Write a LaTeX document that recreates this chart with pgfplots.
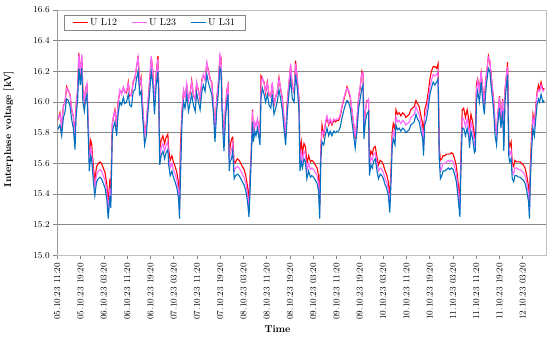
\documentclass[border=0pt]{standalone}
\usepackage{pgfplots}
\usepackage{pgfplotstable}
\pgfplotsset{compat=1.18}
\definecolor{cRed}{HTML}{FF0000}
\definecolor{cMag}{HTML}{FF66FF}
\definecolor{cBlue}{HTML}{0070C0}
\definecolor{gridc}{HTML}{868686}
\definecolor{framec}{HTML}{C0C0C0}

\pgfplotstableread{
h r m b
0.1 15.88 15.89 15.82
0.9 15.93 15.92 15.85
1.5 15.84 15.85 15.78
2.1 15.98 15.97 15.90
2.6 15.99 16.00 15.93
3.2 16.10 16.09 16.02
3.8 16.07 16.08 16.01
4.4 16.05 16.04 15.97
4.9 15.95 15.96 15.89
5.5 15.91 15.90 15.83
6.1 15.75 15.76 15.69
6.4 15.97 15.96 15.89
7.0 16.08 16.09 16.02
7.4 16.32 16.31 16.22
7.9 16.17 16.18 16.11
8.4 16.30 16.31 16.22
8.8 16.08 16.07 16.00
9.3 16.00 16.01 15.94
9.7 16.09 16.08 16.01
10.2 16.11 16.12 16.05
10.6 15.87 15.88 15.81
11.0 15.65 15.60 15.55
11.5 15.75 15.70 15.65
11.8 15.73 15.68 15.63
12.4 15.58 15.53 15.48
12.9 15.49 15.44 15.39
13.5 15.58 15.53 15.48
14.1 15.60 15.55 15.50
14.7 15.61 15.56 15.51
15.2 15.60 15.55 15.50
15.8 15.57 15.52 15.47
16.4 15.54 15.49 15.44
17.0 15.47 15.42 15.37
17.5 15.34 15.29 15.24
18.1 15.50 15.44 15.39
18.4 15.41 15.36 15.31
18.9 15.86 15.84 15.78
19.2 15.89 15.90 15.83
19.8 15.95 15.94 15.87
20.4 15.84 15.85 15.78
20.9 16.00 15.99 15.92
21.5 16.07 16.08 16.00
22.1 16.06 16.05 15.98
22.7 16.09 16.10 16.03
23.2 16.07 16.06 15.99
23.8 16.06 16.07 16.00
24.4 16.13 16.12 16.05
24.9 16.04 16.05 15.98
25.5 16.05 16.04 15.97
26.1 16.13 16.14 16.07
26.7 16.16 16.15 16.08
27.2 16.22 16.23 16.15
27.8 16.30 16.29 16.20
28.3 16.11 16.12 16.05
28.8 16.16 16.15 16.07
29.4 15.95 15.96 15.89
30.0 15.78 15.79 15.72
30.6 15.86 15.85 15.78
31.1 15.98 15.99 15.92
31.7 16.13 16.12 16.05
32.3 16.29 16.30 16.20
32.8 16.21 16.20 16.13
33.4 15.98 15.99 15.92
34.0 16.19 16.18 16.11
34.6 16.30 16.28 16.20
34.9 16.06 16.07 16.00
35.2 15.69 15.64 15.59
35.7 15.75 15.70 15.65
36.3 15.78 15.73 15.68
36.9 15.73 15.68 15.63
37.4 15.77 15.72 15.67
38.0 15.79 15.74 15.69
38.3 15.69 15.64 15.59
38.8 15.62 15.57 15.52
39.4 15.65 15.60 15.55
39.9 15.61 15.56 15.51
40.5 15.58 15.53 15.48
41.1 15.54 15.49 15.44
41.7 15.47 15.42 15.37
42.0 15.34 15.29 15.24
42.3 15.70 15.58 15.48
42.9 15.95 15.96 15.89
43.4 16.07 16.08 16.00
43.9 16.04 16.03 15.96
44.5 16.11 16.12 16.05
45.1 16.02 16.01 15.94
45.7 16.06 16.07 16.00
46.2 16.14 16.13 16.05
46.8 16.04 16.05 15.98
47.4 16.02 16.01 15.94
47.9 16.12 16.13 16.06
48.5 16.08 16.07 16.00
49.1 16.01 16.02 15.95
49.7 16.15 16.14 16.07
50.2 16.17 16.18 16.11
50.8 16.15 16.14 16.07
51.4 16.25 16.26 16.18
51.9 16.21 16.20 16.13
52.5 16.15 16.16 16.09
53.1 16.13 16.12 16.05
53.7 15.98 15.99 15.92
54.2 15.80 15.81 15.74
54.8 16.02 16.01 15.94
55.4 16.13 16.14 16.07
55.9 16.30 16.31 16.22
56.3 16.29 16.28 16.20
56.6 16.02 16.03 15.96
57.0 15.86 15.85 15.78
57.3 15.74 15.75 15.68
57.8 15.96 15.97 15.89
58.3 16.08 16.07 16.00
58.7 16.11 16.12 16.05
59.1 15.65 15.60 15.55
59.4 15.71 15.66 15.61
59.9 15.76 15.69 15.63
60.3 15.77 15.73 15.68
60.8 15.60 15.55 15.50
61.3 15.61 15.57 15.52
61.9 15.63 15.58 15.53
62.5 15.62 15.57 15.52
63.1 15.60 15.55 15.50
63.6 15.58 15.53 15.48
64.2 15.56 15.51 15.46
64.8 15.52 15.47 15.42
65.4 15.45 15.40 15.35
65.9 15.35 15.30 15.25
66.3 15.54 15.49 15.44
66.7 15.68 15.70 15.65
67.1 15.95 15.94 15.87
67.4 15.79 15.80 15.74
67.9 15.86 15.87 15.81
68.3 15.85 15.84 15.78
68.8 15.88 15.89 15.83
69.2 15.85 15.84 15.78
69.7 15.77 15.78 15.72
70.0 16.17 16.10 16.02
70.5 16.15 16.16 16.09
71.1 16.13 16.12 16.05
71.6 16.06 16.07 16.00
72.2 16.13 16.12 16.05
72.8 16.04 16.05 15.98
73.4 16.04 16.03 15.96
73.9 16.12 16.13 16.05
74.5 15.98 15.99 15.92
75.1 16.04 16.03 15.96
75.6 16.06 16.07 16.00
76.2 16.16 16.15 16.08
76.8 16.08 16.09 16.02
77.4 16.02 16.01 15.94
77.9 15.89 15.90 15.83
78.5 15.78 15.79 15.72
79.1 16.02 16.01 15.94
79.7 16.13 16.14 16.07
80.2 16.24 16.25 16.15
80.8 16.10 16.09 16.02
81.4 16.06 16.07 16.00
81.9 16.27 16.25 16.18
82.5 16.15 16.16 16.09
83.1 16.02 16.01 15.94
83.4 15.65 15.60 15.55
83.9 15.74 15.67 15.61
84.3 15.67 15.62 15.57
84.8 15.73 15.68 15.63
85.3 15.71 15.66 15.61
85.8 15.60 15.55 15.50
86.4 15.65 15.60 15.55
87.0 15.61 15.56 15.51
87.5 15.62 15.57 15.52
88.1 15.61 15.56 15.51
88.7 15.59 15.54 15.49
89.3 15.57 15.52 15.47
89.8 15.52 15.47 15.42
90.2 15.34 15.29 15.24
90.6 15.70 15.67 15.63
91.0 15.85 15.81 15.74
91.6 15.78 15.79 15.72
92.1 15.85 15.86 15.78
92.7 15.90 15.91 15.83
93.3 15.85 15.86 15.78
93.8 15.88 15.89 15.81
94.4 15.85 15.86 15.78
95.0 15.88 15.89 15.81
95.6 15.87 15.88 15.80
96.1 15.88 15.89 15.81
96.7 15.88 15.89 15.81
97.3 15.91 15.92 15.84
97.8 15.96 15.97 15.89
98.4 16.01 16.02 15.94
99.0 16.05 16.06 15.98
99.6 16.10 16.09 16.01
100.1 16.07 16.08 16.00
100.7 16.03 16.04 15.96
101.3 15.94 15.95 15.87
101.9 15.85 15.86 15.78
102.4 15.76 15.77 15.70
103.0 15.88 15.89 15.81
103.6 16.03 16.04 15.96
104.1 16.09 16.10 16.02
104.7 16.20 16.19 16.09
105.1 16.18 16.19 16.11
105.4 15.83 15.84 15.76
105.9 15.94 15.95 15.87
106.4 16.01 16.00 15.92
107.0 16.01 16.02 15.94
107.3 15.62 15.57 15.52
107.8 15.68 15.64 15.59
108.3 15.66 15.62 15.57
108.7 15.70 15.66 15.61
109.3 15.71 15.67 15.63
109.9 15.64 15.60 15.55
110.4 15.59 15.55 15.50
111.0 15.62 15.57 15.53
111.6 15.61 15.56 15.52
112.1 15.59 15.54 15.50
112.7 15.55 15.50 15.46
113.2 15.53 15.48 15.44
113.8 15.48 15.43 15.39
114.3 15.37 15.32 15.28
114.8 15.60 15.56 15.52
115.1 15.80 15.75 15.70
115.5 15.86 15.81 15.76
116.1 15.82 15.77 15.72
116.4 15.95 15.90 15.85
117.0 15.92 15.87 15.82
117.5 15.93 15.88 15.83
118.1 15.91 15.86 15.81
118.7 15.93 15.88 15.83
119.3 15.92 15.87 15.82
119.8 15.90 15.85 15.80
120.4 15.91 15.86 15.81
121.0 15.92 15.87 15.82
121.5 15.95 15.90 15.85
122.1 15.96 15.91 15.86
122.7 15.97 15.92 15.87
123.3 16.01 15.97 15.92
123.8 15.99 15.94 15.89
124.4 15.97 15.92 15.87
125.0 15.91 15.86 15.81
125.6 15.86 15.81 15.76
125.9 15.75 15.70 15.65
126.3 15.95 15.90 15.85
126.9 15.99 15.94 15.89
127.5 16.06 16.01 15.96
128.1 16.15 16.10 16.05
128.6 16.20 16.14 16.09
129.2 16.23 16.18 16.13
129.8 16.23 16.17 16.11
130.4 16.22 16.18 16.13
130.9 16.25 16.20 16.15
131.3 15.70 15.66 15.63
131.7 15.62 15.55 15.50
132.2 15.63 15.57 15.52
132.6 15.65 15.60 15.55
133.2 15.65 15.60 15.55
133.8 15.66 15.61 15.56
134.4 15.66 15.62 15.57
134.9 15.66 15.61 15.56
135.5 15.67 15.62 15.57
136.1 15.66 15.61 15.56
136.7 15.62 15.57 15.52
137.2 15.58 15.53 15.48
137.8 15.47 15.42 15.37
138.4 15.35 15.30 15.25
138.7 15.62 15.57 15.52
139.2 15.95 15.90 15.83
139.7 15.96 15.89 15.83
140.3 15.90 15.84 15.78
140.9 15.95 15.89 15.83
141.5 15.88 15.82 15.76
141.7 15.82 15.76 15.70
142.2 15.92 15.87 15.81
142.8 15.87 15.82 15.76
143.4 15.77 15.72 15.67
143.7 15.78 15.73 15.68
144.1 16.12 16.08 16.00
144.5 16.15 16.14 16.07
145.1 16.08 16.07 16.00
145.7 16.19 16.20 16.13
146.3 16.08 16.07 16.00
146.8 15.98 15.99 15.92
147.2 16.13 16.12 16.05
147.6 16.19 16.20 16.13
148.2 16.30 16.29 16.22
148.7 16.26 16.27 16.20
149.1 16.19 16.18 16.11
149.6 16.08 16.09 16.02
150.0 16.02 16.01 15.94
150.5 15.84 15.85 15.78
151.0 15.80 15.79 15.72
151.4 15.91 15.92 15.85
152.0 16.04 16.03 15.96
152.5 15.89 15.90 15.83
153.1 16.02 16.01 15.94
153.5 15.74 15.75 15.68
153.9 16.08 16.07 16.00
154.4 16.17 16.18 16.11
154.8 16.26 16.23 16.18
155.2 15.75 15.70 15.65
155.5 15.71 15.66 15.61
156.0 15.74 15.68 15.63
156.4 15.60 15.55 15.50
156.9 15.58 15.53 15.48
157.3 15.62 15.57 15.52
157.9 15.61 15.57 15.52
158.5 15.61 15.56 15.51
159.1 15.61 15.56 15.51
159.6 15.60 15.55 15.50
160.2 15.59 15.54 15.49
160.8 15.57 15.52 15.47
161.4 15.52 15.47 15.42
162.0 15.45 15.40 15.35
162.3 15.34 15.29 15.24
162.6 15.58 15.53 15.48
163.1 15.80 15.75 15.70
163.5 15.92 15.90 15.83
164.0 15.86 15.85 15.78
164.4 15.95 15.94 15.87
164.9 16.06 16.05 15.98
165.4 16.11 16.08 16.02
165.8 16.08 16.07 16.00
166.3 16.13 16.11 16.05
166.9 16.08 16.07 16.00
167.4 16.09 16.08 16.01
}\datatable

\begin{document}
\begin{tikzpicture}
\path[use as bounding box] (-57.3bp,-83.6bp) rectangle (492.7bp,255.4bp);
\begin{axis}[
  at={(0,0)}, anchor=south west,
  width=488.7bp, height=245.4bp, scale only axis,
  xmin=0, xmax=168, ymin=15, ymax=16.6,
  xtick={0,8,16,24,32,40,48,56,64,72,80,88,96,104,112,120,128,136,144,152,160},
  xticklabels={05.10.23 11:20,05.10.23 19:20,06.10.23 03:20,06.10.23 11:20,06.10.23 19:20,07.10.23 03:20,07.10.23 11:20,07.10.23 19:20,08.10.23 03:20,08.10.23 11:20,08.10.23 19:20,09.10.23 03:20,09.10.23 11:20,09.10.23 19:20,10.10.23 03:20,10.10.23 11:20,10.10.23 19:20,11.10.23 03:20,11.10.23 11:20,11.10.23 19:20,12.10.23 03:20},
  ytick={15,15.2,15.4,15.6,15.8,16,16.2,16.4},
  extra y ticks={16.6},
  extra y tick style={grid=none},
  /pgf/number format/fixed, /pgf/number format/fixed zerofill, /pgf/number format/precision=1,
  tick label style={font=\fontsize{9}{10}\selectfont, black},
  yticklabel style={font=\fontsize{9.5}{10}\selectfont},
  xticklabel style={rotate=90, anchor=east},
  tick pos=left,
  tick align=outside,
  major tick length=4bp,
  tick style={gridc, line width=0.6pt},
  ymajorgrids,
  major grid style={gridc, line width=0.9pt},
  axis line style={framec, line width=0.8pt},
  no markers,
  ylabel={Interphase voltage [kV]},
  ylabel style={at={(axis description cs:-0.0994,0.515)}, anchor=center, font=\bfseries\fontsize{10}{11}\selectfont},
  xlabel={Time},
  xlabel style={at={(axis description cs:0.4506,-0.300)}, anchor=center, font=\bfseries\fontsize{10}{11}\selectfont},
  legend style={at={(axis description cs:0.0137,0.98)}, anchor=north west, legend columns=3, draw=gridc, font=\fontsize{10}{11}\selectfont, inner ysep=1.5bp, inner xsep=8bp, /tikz/every even column/.append style={column sep=12bp}},
  legend image code/.code={\draw[#1, line width=1pt] (0bp,0bp) -- (15bp,0bp);},
]
\addplot[cRed, line width=1.1pt] table[x=h, y=r] {\datatable};
\addplot[cMag, line width=1.1pt] table[x=h, y=m] {\datatable};
\addplot[cBlue, line width=1.1pt] table[x=h, y=b] {\datatable};
\draw[gridc, line width=0.8pt] (rel axis cs:0,0) -- (rel axis cs:0,1);
\legend{U L12, U L23, U L31}
\end{axis}
\end{tikzpicture}
\end{document}
